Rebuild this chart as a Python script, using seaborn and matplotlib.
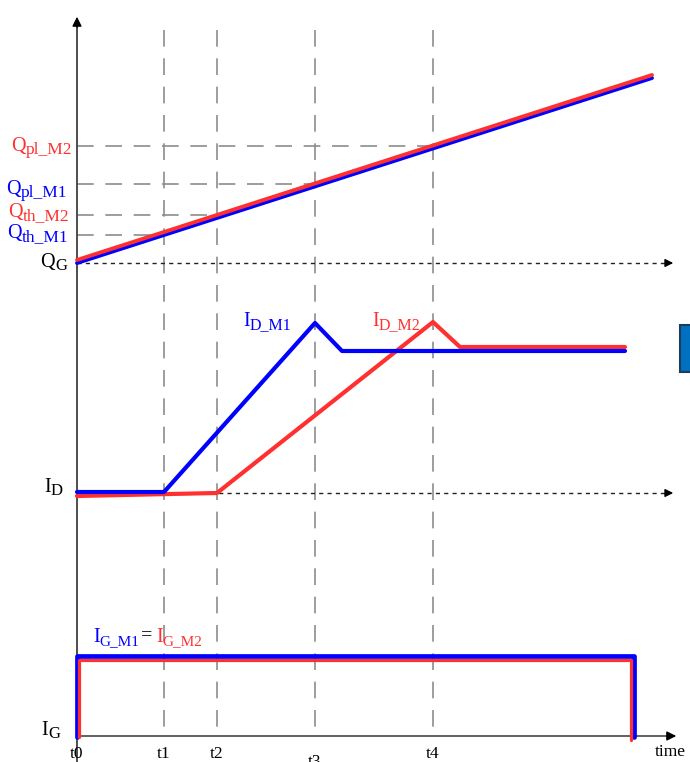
import matplotlib
matplotlib.use("Agg")
import matplotlib.pyplot as plt
from matplotlib.patches import Rectangle
import seaborn as sns

sns.set_theme(style="white")
plt.rcParams["font.family"] = ["Liberation Serif", "DejaVu Serif"]

BLUE = "#0000ff"
RED = "#ff3030"
GREY = "#8c8c8c"

# time instants (horizontal canvas position)
time_labels = ["t0", "t1", "t2", "t3", "t4"]
time_x = [77, 164, 217, 315, 433]

# gate charge ramps
qg_m1_x = [77, 652]
qg_m1_y = [263, 78]
qg_m2_x = [77, 652]
qg_m2_y = [260, 75]

# charge reference levels: subscript, level, end instant, colour
q_subs = ["pl_M2", "pl_M1", "th_M2", "th_M1"]
q_levels = [146, 184, 215, 235]
q_ends = [433, 315, 217, 164]
q_colors = [RED, BLUE, RED, BLUE]
q_label_right = [72, 67, 69, 68]
q_label_base = [151, 194, 217, 238]

# drain current waveforms
id_m1_x = [77, 164, 315, 342, 625]
id_m1_y = [492, 492, 323, 351, 351]
id_m2_x = [77, 217, 433, 460, 625]
id_m2_y = [496, 493, 322, 347, 347]

# gate current pulses
ig_m1_x = [77, 77, 634, 634]
ig_m1_y = [737, 656, 656, 737]
ig_m2_x = [79, 79, 631, 631]
ig_m2_y = [737, 660, 660, 740]

# baselines of the three traces
qg_base, id_base, ig_base = 263, 493, 736

fig = plt.figure(figsize=(6.9, 7.62), dpi=100)
ax = fig.add_axes([0, 0, 1, 1])
renderer = fig.canvas.get_renderer()

FS_MAIN, SUB_DROP = 14.5, 3


def sub_label(x, y, main, sub, color, ha="left", fs_sub=12):
    """Main letter with a subscript, placed by its baseline (canvas pixels)."""
    if ha == "left":
        t = ax.text(x, y, main, color=color, fontsize=FS_MAIN, ha="left", va="baseline")
        w = t.get_window_extent(renderer).width
        s = ax.text(x + w, y + SUB_DROP, sub, color=color, fontsize=fs_sub,
                    ha="left", va="baseline")
        return x + w + s.get_window_extent(renderer).width
    t = ax.text(x, y + SUB_DROP, sub, color=color, fontsize=fs_sub, ha="right", va="baseline")
    w = t.get_window_extent(renderer).width
    ax.text(x - w, y, main, color=color, fontsize=FS_MAIN, ha="right", va="baseline")
    return x


ax.set_xlim(0, 690)
ax.set_ylim(762, 0)

DASH = (0, (10, 7))
# vertical instant markers
for x in time_x[1:]:
    ax.plot([x, x], [30, 737], color=GREY, lw=1.2, ls=DASH, zorder=1)

# charge reference levels
for lvl, xe in zip(q_levels, q_ends):
    ax.plot([77, xe], [lvl, lvl], color=GREY, lw=1.2, ls=DASH, zorder=1)

# dotted baselines with arrowheads
for yb in (qg_base, id_base):
    ax.plot([77, 668], [yb, yb], color="#222222", lw=1.0, ls=(0, (3, 3)), zorder=1)
    ax.annotate("", xy=(676, yb), xytext=(664, yb),
                arrowprops=dict(arrowstyle="-|>", color="black", lw=1, mutation_scale=12))

# axes
ax.plot([77, 77], [762, 22], color="#404040", lw=1.3, zorder=1)
ax.annotate("", xy=(77, 14), xytext=(77, 30),
            arrowprops=dict(arrowstyle="-|>", color="black", lw=1, mutation_scale=14))
ax.plot([77, 670], [ig_base, ig_base], color="#555555", lw=1.3, zorder=1)
ax.annotate("", xy=(679, ig_base), xytext=(664, ig_base),
            arrowprops=dict(arrowstyle="-|>", color="black", lw=1, mutation_scale=14))

# waveforms
sns.lineplot(x=ig_m1_x, y=ig_m1_y, sort=False, estimator=None, color=BLUE, lw=3.4, ax=ax, zorder=3)
sns.lineplot(x=ig_m2_x, y=ig_m2_y, sort=False, estimator=None, color=RED, lw=2.3, ax=ax, zorder=4)
sns.lineplot(x=id_m1_x, y=id_m1_y, sort=False, estimator=None, color=BLUE, lw=3.0, ax=ax, zorder=4)
sns.lineplot(x=id_m2_x, y=id_m2_y, sort=False, estimator=None, color=RED, lw=3.0, ax=ax, zorder=3)
sns.lineplot(x=qg_m1_x, y=qg_m1_y, sort=False, estimator=None, color=BLUE, lw=2.8, ax=ax, zorder=3)
sns.lineplot(x=qg_m2_x, y=qg_m2_y, sort=False, estimator=None, color=RED, lw=2.8, ax=ax, zorder=4)
ax.set_xlim(0, 690)
ax.set_ylim(762, 0)
ax.axis("off")

# charge labels
for sub, xr, yb, col in zip(q_subs, q_label_right, q_label_base, q_colors):
    sub_label(xr, yb, "Q", sub, col, ha="right", fs_sub=12.5)
sub_label(67, 267, "Q", "G", "black", ha="right")
sub_label(63, 492, "I", "D", "black", ha="right")
sub_label(60, 735, "I", "G", "black", ha="right")

# waveform names
sub_label(243, 326, "I", "D_M1", BLUE, fs_sub=11.5)
sub_label(372, 326, "I", "D_M2", RED, fs_sub=11.5)
sub_label(93, 642, "I", "G_M1", BLUE, fs_sub=11)
ax.text(141, 640, "=", color="black", fontsize=FS_MAIN, ha="left", va="baseline")
sub_label(156, 642, "I", "G_M2", RED, fs_sub=11)

# instant labels
for lab, x in zip(time_labels, time_x):
    ax.text(x, 766 if lab == "t3" else 758, lab, color="black", fontsize=12.5,
            ha="center", va="baseline")
ax.text(655, 756, "time", color="black", fontsize=12.5, ha="left", va="baseline")

# partial block on the right edge
ax.add_patch(Rectangle((680, 325), 12, 47, facecolor="#0070c0", edgecolor="#1f3a5a", lw=1.5))

fig.savefig("out.png", dpi=100)
